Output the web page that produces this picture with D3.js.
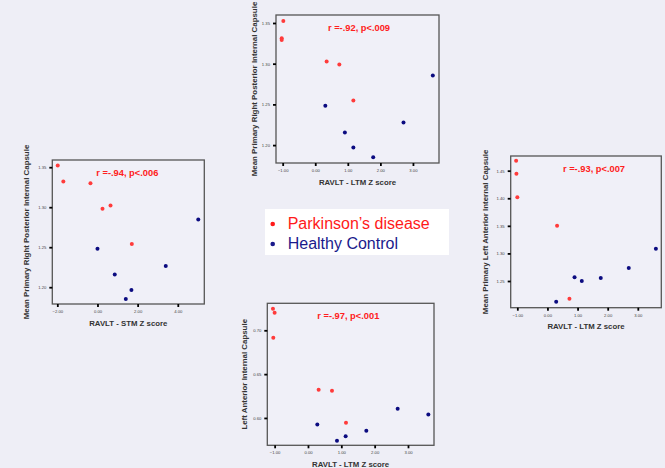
<!DOCTYPE html>
<html lang="en">
<head>
  <meta charset="UTF-8">
  <title>RAVLT vs FA</title>
  <script src="https://cdn.jsdelivr.net/npm/d3@7"></script>
  <style>
    body { margin: 0; background: #eeeef6; }
    svg { display: block; font-family: "Liberation Sans", Arial, sans-serif; }
  </style>
</head>
<body>
  <svg width="665" height="468"></svg>
  <script>
    // top panel: RAVLT LTM vs right posterior IC
    let topPdX = [-0.98, -1.03, -1.03, 0.35, 0.74, 1.17];
    let topPdY = [1.3525, 1.3313, 1.329, 1.3026, 1.2989, 1.2548];
    let topHcX = [0.31, 0.91, 1.17, 1.78, 2.71, 3.61];
    let topHcY = [1.2483, 1.2156, 1.197, 1.185, 1.2278, 1.2854];

    // left panel: RAVLT STM vs right posterior IC
    let leftPdX = [-1.98, -1.70, -0.35, 0.25, 0.65, 1.71];
    let leftPdY = [1.352, 1.332, 1.3299, 1.298, 1.302, 1.254];
    let leftHcX = [0.0, 0.86, 1.69, 1.41, 3.40, 5.02];
    let leftHcY = [1.248, 1.2158, 1.1966, 1.1854, 1.2266, 1.2845];

    // right panel: RAVLT LTM vs left anterior IC (primary)
    let rightPdX = [-1.04, -1.03, -1.0, 0.32, 0.73];
    let rightPdY = [1.468, 1.4446, 1.4018, 1.35, 1.218];
    let rightHcX = [0.29, 0.90, 1.14, 1.77, 2.70, 3.60];
    let rightHcY = [1.2126, 1.257, 1.25, 1.2554, 1.2736, 1.3085];

    // bottom panel: RAVLT LTM vs left anterior IC
    let botPdX = [-1.05, -1.0, -1.04, 0.32, 0.72, 1.14];
    let botPdY = [0.7247, 0.7201, 0.6916, 0.6321, 0.631, 0.5946];
    let botHcX = [0.28, 0.87, 1.13, 1.75, 2.69, 3.61];
    let botHcY = [0.5924, 0.5741, 0.579, 0.5855, 0.6106, 0.6038];

    let ltmTicks = [-1, 0, 1, 2, 3];
    let stmTicks = [-2, 0, 2, 4];

    let panels = [
      { x0: 276, y0: 15, w: 163, h: 148, xDom: [-1.205, 3.80], yDom: [1.178, 1.3598],
        xTicks: ltmTicks, yTicks: [1.20, 1.25, 1.30, 1.35],
        pdX: topPdX, pdY: topPdY, hcX: topHcX, hcY: topHcY,
        r: 'r =-.92, p<.009', rX: 359, xLab: 'RAVLT - LTM Z score',
        yLab: 'Mean Primary Right Posterior Internal Capsule', labX: 257 },
      { x0: 52.3, y0: 160, w: 152, h: 144, xDom: [-2.25, 5.32], yDom: [1.179, 1.359],
        xTicks: stmTicks, yTicks: [1.20, 1.25, 1.30, 1.35],
        pdX: leftPdX, pdY: leftPdY, hcX: leftHcX, hcY: leftHcY,
        r: 'r =-.94, p<.006', rX: 127.3, xLab: 'RAVLT - STM Z score',
        yLab: 'Mean Primary Right Posterior Internal Capsule', labX: 29 },
      { x0: 510.7, y0: 156, w: 150.6, h: 151.7, xDom: [-1.22, 3.78], yDom: [1.2016, 1.4766],
        xTicks: ltmTicks, yTicks: [1.25, 1.30, 1.35, 1.40, 1.45],
        pdX: rightPdX, pdY: rightPdY, hcX: rightHcX, hcY: rightHcY,
        r: 'r =-.93, p<.007', rX: 594, xLab: 'RAVLT - LTM Z score',
        yLab: 'Mean Primary Left Anterior Internal Capsule', labX: 488 },
      { x0: 267.3, y0: 303.3, w: 166.7, h: 142, xDom: [-1.22, 3.78], yDom: [0.5688, 0.7308],
        xTicks: ltmTicks, yTicks: [0.60, 0.65, 0.70],
        pdX: botPdX, pdY: botPdY, hcX: botHcX, hcY: botHcY,
        r: 'r =-.97, p<.001', rX: 348.3, xLab: 'RAVLT - LTM Z score',
        yLab: 'Left Anterior Internal Capsule', labX: 247 }
    ];

    let svg = d3.select('svg');
    svg.append('rect').attr('width', 665).attr('height', 468).attr('fill', '#eeeef6');

    panels.forEach(p => {
      let x = d3.scaleLinear().domain(p.xDom).range([p.x0, p.x0 + p.w]);
      let y = d3.scaleLinear().domain(p.yDom).range([p.y0 + p.h, p.y0]);
      let g = svg.append('g');

      g.append('rect')
        .attr('x', p.x0).attr('y', p.y0)
        .attr('width', p.w).attr('height', p.h)
        .attr('fill', '#f0f0f8')
        .attr('stroke', '#555')
        .attr('stroke-width', 1.3);

      let xAxis = g.append('g')
        .attr('transform', 'translate(0,' + (p.y0 + p.h) + ')')
        .call(d3.axisBottom(x).tickValues(p.xTicks).tickFormat(d3.format('.2f'))
          .tickSizeInner(3).tickSizeOuter(0).tickPadding(3));
      let yAxis = g.append('g')
        .attr('transform', 'translate(' + p.x0 + ',0)')
        .call(d3.axisLeft(y).tickValues(p.yTicks).tickFormat(d3.format('.2f'))
          .tickSizeInner(3).tickSizeOuter(0).tickPadding(3));
      [xAxis, yAxis].forEach(a => {
        a.select('.domain').remove();
        a.selectAll('line').attr('stroke', '#000').attr('stroke-width', 1.8);
        a.selectAll('text').attr('font-size', 4.2).attr('fill', '#444');
      });

      g.selectAll('.pd')
        .data(p.pdX)
        .join('circle')
        .attr('cx', d => x(d))
        .attr('cy', (d, i) => y(p.pdY[i]))
        .attr('r', 2)
        .attr('fill', '#ff3b3b');
      g.selectAll('.hc')
        .data(p.hcX)
        .join('circle')
        .attr('class', 'hc')
        .attr('cx', d => x(d))
        .attr('cy', (d, i) => y(p.hcY[i]))
        .attr('r', 2)
        .attr('fill', '#0b0b80');

      g.append('text')
        .attr('x', p.rX)
        .attr('y', p.y0 + 15.5)
        .attr('text-anchor', 'middle')
        .attr('font-size', 9.3)
        .attr('font-weight', 'bold')
        .attr('fill', '#ff2020')
        .text(p.r);

      g.append('text')
        .attr('x', p.x0 + p.w / 2)
        .attr('y', p.y0 + p.h + 21.5)
        .attr('text-anchor', 'middle')
        .attr('font-size', 7.8)
        .attr('font-weight', 'bold')
        .attr('fill', '#333')
        .text(p.xLab);

      g.append('text')
        .attr('transform', 'translate(' + p.labX + ',' + (p.y0 + p.h / 2) + ') rotate(-90)')
        .attr('text-anchor', 'middle')
        .attr('font-size', 7.9)
        .attr('font-weight', 'bold')
        .attr('fill', '#333')
        .text(p.yLab);
    });

    // legend
    let legendItems = ['Parkinson\u2019s disease', 'Healthy Control'];
    let legendColors = ['#ff1a1a', '#1a1a8c'];
    let lg = svg.append('g');
    lg.append('rect').attr('x', 265).attr('y', 209).attr('width', 184).attr('height', 46).attr('fill', '#fff');
    lg.selectAll('circle')
      .data(legendItems)
      .join('circle')
      .attr('cx', 272.7)
      .attr('cy', (d, i) => 224 + i * 20)
      .attr('r', 2.3)
      .attr('fill', (d, i) => legendColors[i]);
    lg.selectAll('text')
      .data(legendItems)
      .join('text')
      .attr('x', 287.7)
      .attr('y', (d, i) => 229 + i * 20)
      .attr('font-size', 16)
      .attr('fill', (d, i) => legendColors[i])
      .text(d => d);
  </script>
</body>
</html>
